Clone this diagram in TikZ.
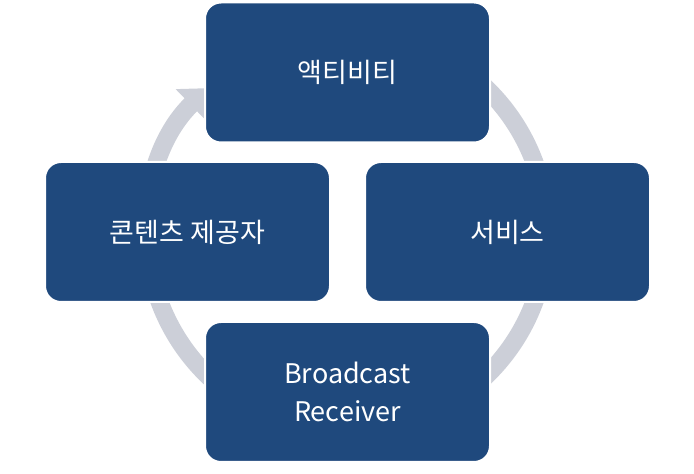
\documentclass[tikz,border=0pt]{standalone}
\usepackage{fontspec}
\setmainfont{Noto Sans CJK KR}
\usetikzlibrary{arrows.meta}
\definecolor{boxc}{RGB}{31,73,125}
\definecolor{ringc}{RGB}{204,207,216}
\begin{document}
\begin{tikzpicture}[x=1pt,y=1pt,
  box/.style={draw=white,line width=2pt,fill=boxc,rounded corners=16pt,minimum width=285pt,minimum height=140pt,text=white,font=\fontsize{27}{38}\selectfont,align=center}]
\useasboundingbox (0,0) rectangle (694,474);
\coordinate (c) at (347,242);
\draw[ringc,line width=18pt,-{Triangle[width=42pt,length=24pt]}] (c) ++(475:200) arc[start angle=475,end angle=134,radius=200];
\node[box] (top) at (347.5,401.5) {액티비티};
\node[box] (right) at (507.5,242) {서비스};
\node[box] (bottom) at (347.5,82) {Broadcast\\Receiver};
\node[box] (left) at (187.5,242) {콘텐츠 제공자};
\end{tikzpicture}
\end{document}
